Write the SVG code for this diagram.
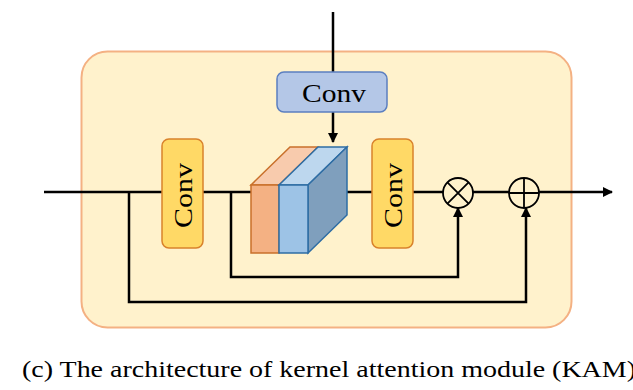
<svg xmlns="http://www.w3.org/2000/svg" width="633" height="390" viewBox="0 0 633 390">
  <defs>
    <marker id="arrow" markerWidth="10" markerHeight="10" refX="9" refY="5" orient="auto" markerUnits="userSpaceOnUse">
      <path d="M0,0 L10,5 L0,10 Z" fill="#000"/>
    </marker>
    <style>
      .wire { fill: none; stroke: #000; stroke-width: 2.5; }
      .conv-y { fill: #ffd966; stroke: #d9822b; stroke-width: 1.5; }
      .conv-b { fill: #b4c7e7; stroke: #5b7fc0; stroke-width: 1.5; }
      .label { font-family: 'Liberation Serif', Tinos, 'Times New Roman', 'Nimbus Roman', FreeSerif, 'Noto Serif', 'DejaVu Serif', serif; fill: #000; }
      .op { fill: #fff2cc; stroke: #000; stroke-width: 1.8; }
    </style>
  </defs>

  <!-- module frame -->
  <rect id="module" x="81.5" y="51.5" width="490" height="276" rx="26" fill="#fff2cc" stroke="#f4b183" stroke-width="2"/>

  <!-- connectors -->
  <g id="connectors">
    <line class="wire" x1="333" y1="12" x2="333" y2="72"/>
    <line class="wire" x1="333" y1="112" x2="333" y2="142" marker-end="url(#arrow)"/>
    <line class="wire" x1="44" y1="192" x2="162" y2="192"/>
    <line class="wire" x1="203" y1="192" x2="251" y2="192"/>
    <line class="wire" x1="347" y1="192" x2="372" y2="192"/>
    <line class="wire" x1="413" y1="192" x2="443" y2="192"/>
    <line class="wire" x1="473" y1="192" x2="509" y2="192"/>
    <line class="wire" x1="539" y1="192" x2="612" y2="192" marker-end="url(#arrow)"/>
    <polyline class="wire" points="129,192 129,302 526,302 526,208" marker-end="url(#arrow)"/>
    <polyline class="wire" points="231,192 231,277 458,277 458,208" marker-end="url(#arrow)"/>
  </g>

  <!-- top convolution -->
  <g id="conv-top">
    <rect class="conv-b" x="277" y="72" width="110" height="40" rx="7"/>
    <text class="label" x="334" y="102" font-size="26" text-anchor="middle" textLength="64" lengthAdjust="spacingAndGlyphs">Conv</text>
  </g>

  <!-- left convolution -->
  <g id="conv-left">
    <rect class="conv-y" x="162" y="139" width="41" height="109" rx="7"/>
    <text class="label" transform="translate(192,195.5) rotate(-90)" font-size="26" text-anchor="middle" textLength="65" lengthAdjust="spacingAndGlyphs">Conv</text>
  </g>

  <!-- kernel block -->
  <g id="kernel">
    <polygon points="251,185 290,147 318,147 279,185" fill="#f8cbad" stroke="#c9702b" stroke-width="1.5"/>
    <rect x="251" y="185" width="28" height="68" fill="#f4b183" stroke="#c9702b" stroke-width="1.5"/>
    <polygon points="279,185 318,147 347,147 308,185" fill="#bdd7ee" stroke="#2e6da4" stroke-width="1.5"/>
    <polygon points="308,185 347,147 347,215 308,253" fill="#7f9fbd" stroke="#2e6da4" stroke-width="1.5"/>
    <rect x="279" y="185" width="29" height="68" fill="#9dc3e6" stroke="#2e6da4" stroke-width="1.5"/>
  </g>

  <!-- right convolution -->
  <g id="conv-right">
    <rect class="conv-y" x="372" y="139" width="41" height="109" rx="7"/>
    <text class="label" transform="translate(402,195.5) rotate(-90)" font-size="26" text-anchor="middle" textLength="65" lengthAdjust="spacingAndGlyphs">Conv</text>
  </g>

  <!-- multiply -->
  <g id="mul">
    <circle class="op" cx="458" cy="193" r="15"/>
    <path d="M447.4,182.4 L468.6,203.6 M468.6,182.4 L447.4,203.6" stroke="#000" stroke-width="1.8"/>
  </g>

  <!-- add -->
  <g id="add">
    <circle class="op" cx="524" cy="193" r="15"/>
    <path d="M509,193 L539,193 M524,178 L524,208" stroke="#000" stroke-width="1.8"/>
  </g>

  <text class="label" x="22" y="377" font-size="24" textLength="614" lengthAdjust="spacingAndGlyphs">(c) The architecture of kernel attention module (KAM)</text>
</svg>
